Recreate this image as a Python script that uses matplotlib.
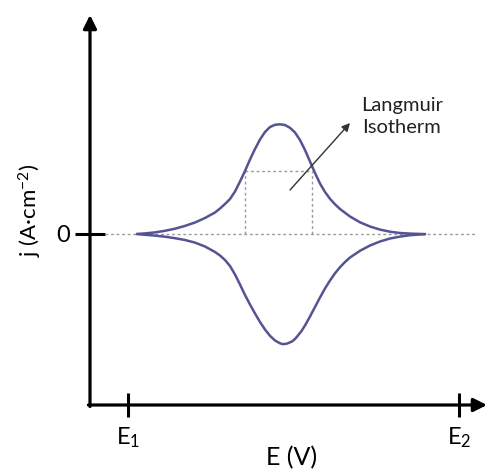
import matplotlib
matplotlib.use("Agg")
import matplotlib.pyplot as plt

plt.rcParams["font.family"] = ["Lato", "DejaVu Sans"]
plt.rcParams["mathtext.fontset"] = "custom"
plt.rcParams["mathtext.rm"] = "Lato"
plt.rcParams["mathtext.it"] = "Lato:italic"

# Potential measured from E1 (E2 sits at 331), current density in arbitrary units
# Anodic (upper) branch
E_up = [9, 17, 27, 37, 47, 57, 67, 77, 87, 92, 97, 102, 107, 112, 117, 122,
        127, 132, 137, 142, 147, 152, 157, 162, 167, 172, 177, 182, 187, 192,
        197, 202, 207, 212, 222, 232, 242, 252, 262, 272, 282, 297]
j_up = [-0.5, 0.1, 1.1, 2.7, 4.8, 7.6, 11.0, 15.5, 21.0, 25.0, 29.5, 34.5,
        42.0, 52.0, 62.5, 74.0, 84.5, 94.0, 101.5, 106.5, 108.7, 109.2, 108.5,
        105.7, 101.0, 93.5, 83.5, 72.0, 60.5, 50.0, 41.5, 34.7, 29.2, 24.5,
        17.0, 11.2, 7.0, 3.9, 1.8, 0.5, -0.1, -0.6]

# Cathodic (lower) branch
E_dn = [9, 17, 27, 37, 47, 57, 67, 77, 87, 92, 97, 102, 107, 112, 117, 122,
        127, 132, 137, 142, 147, 152, 155, 159, 164, 167, 170, 173.5, 177, 182,
        187, 192, 197, 202, 207, 212, 217, 222, 232, 242, 252, 262, 272, 282,
        297]
j_dn = [-0.5, -1.3, -2.1, -3.2, -4.7, -6.5, -9.1, -13.0, -18.5, -22.0, -26.5,
        -32.5, -41.0, -51.0, -61.5, -71.0, -80.0, -88.5, -96.0, -102.3, -107.0,
        -109.8, -110.7, -110.1, -108.0, -105.5, -102.0, -97.5, -92.0, -83.0,
        -73.5, -64.0, -55.0, -47.0, -39.8, -33.7, -28.5, -24.0, -17.3, -12.0,
        -8.0, -5.0, -3.1, -1.7, -0.6]

# Guide box marking two points on the anodic wave
box_E = [116.5, 184.0]
box_j = 63.0

x_ticks = [0, 331]
x_tick_labels = ["E$_1$", "E$_2$"]

fig = plt.figure(figsize=(4.89, 4.71), dpi=100)
ax = fig.add_axes([90 / 489, 66 / 471, 397 / 489, 390 / 471])
ax.set_xlim(-38, 359)
ax.set_ylim(-171.5, 218.5)
for s in ax.spines.values():
    s.set_visible(False)

curve_color = "#545492"
ax.plot(E_up, j_up, color=curve_color, lw=1.8, solid_capstyle="round",
        solid_joinstyle="round", zorder=3)
ax.plot(E_dn, j_dn, color=curve_color, lw=1.8, solid_capstyle="round",
        solid_joinstyle="round", zorder=3)

# dotted guides
guide = dict(color="#9a9a9a", lw=1.0, ls=(0, (2, 2)), zorder=2)
ax.plot([-23, 347], [0, 0], **guide)
ax.plot([box_E[0], box_E[0]], [0, box_j], **guide)
ax.plot([box_E[1], box_E[1]], [0, box_j], **guide)
ax.plot(box_E, [box_j, box_j], **guide)

# pointer to the label
ax.annotate("", xy=(222, 110.5), xytext=(162, 43.5),
            arrowprops=dict(arrowstyle="-|>", color="#333333", lw=1.0,
                            mutation_scale=12, shrinkA=0, shrinkB=0))
ax.text(274, 117, "Langmuir\nIsotherm", ha="center", va="center",
        fontsize=14.5, linespacing=1.3, color="#222222")

# axes with arrowheads
ax.annotate("", xy=(1, 0), xytext=(-0.004, 0), xycoords="axes fraction",
            arrowprops=dict(arrowstyle="-|>", color="black", lw=2.3,
                            mutation_scale=20, shrinkA=0, shrinkB=0),
            annotation_clip=False)
ax.annotate("", xy=(0, 1), xytext=(0, -0.004), xycoords="axes fraction",
            arrowprops=dict(arrowstyle="-|>", color="black", lw=2.3,
                            mutation_scale=20, shrinkA=0, shrinkB=0),
            annotation_clip=False)

ax.set_xticks(x_ticks)
ax.set_xticklabels(x_tick_labels, fontsize=17)
ax.set_yticks([0])
ax.set_yticklabels(["0"], fontsize=17)
ax.tick_params(axis="x", direction="inout", length=17, width=2.2, pad=6)
ax.tick_params(axis="y", direction="inout", length=21, width=2.2, pad=4)

ax.set_xlabel("E (V)", fontsize=18)
ax.xaxis.set_label_coords((292 - 90) / 397, (405 - 458) / 390)
ax.xaxis.label.set_va("center")
ax.set_ylabel("j (A·cm$^{-2}$)", fontsize=16)
ax.yaxis.set_label_coords((30 - 90) / 397, (405 - 210) / 390)
ax.yaxis.label.set_va("center")

fig.savefig("out.png", dpi=100, facecolor="white")
